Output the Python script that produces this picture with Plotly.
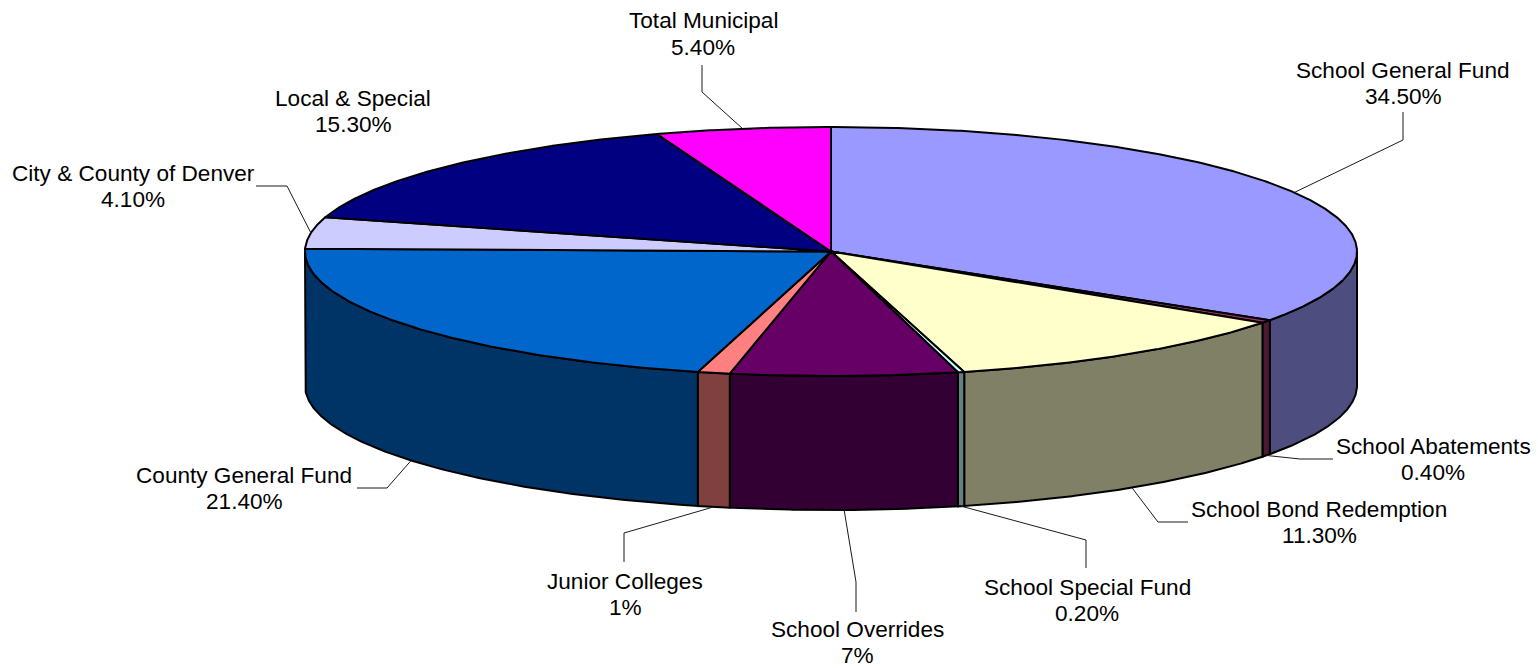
import numpy as np
import plotly.graph_objects as go

# ---- data ----
categories = ["School General Fund", "School Abatements", "School Bond Redemption",
              "School Special Fund", "School Overrides", "Junior Colleges",
              "County General Fund", "City & County of Denver", "Local & Special",
              "Total Municipal"]
values = [34.5, 0.4, 11.3, 0.2, 7, 1, 21.4, 4.1, 15.3, 5.4]
value_labels = ["34.50%", "0.40%", "11.30%", "0.20%", "7%", "1%",
                "21.40%", "4.10%", "15.30%", "5.40%"]

# ---- styles ----
top_colors = ["#9999FF", "#993366", "#FFFFCC", "#CCFFFF", "#660066",
              "#FF8080", "#0066CC", "#CCCCFF", "#000080", "#FF00FF"]
side_colors = ["#4D4D80", "#4D1A33", "#808066", "#668080", "#330033",
               "#804040", "#003366", "#666680", "#000040", "#800080"]

# ---- layout geometry (pixels of the 1538x668 canvas) ----
W, H = 1538, 668
CX, CY, RX, RY, DEPTH = 831, 251.5, 526, 124.5, 134
FONT = "Liberation Sans, Arial, sans-serif"
FONT_SIZE = 22.6
# label centre x, first-line y, second-line y
label_pos = [(1403, 70, 96), (1433, 446, 472), (1319, 509, 535), (1087, 587, 613),
             (857, 629, 655), (625, 581, 607), (244, 475, 501), (133, 173, 199),
             (353, 98, 124), (703, 20, 47)]
# leader: elbow and end point, None when the label has no leader
leader_pos = [((1403, 140), (1403, 112)), ((1300, 459), (1333, 459)),
              ((1158, 522), (1188, 522)), ((1086, 540), (1086, 568)),
              ((856, 582), (856, 612)), ((624, 533), (624, 562)),
              ((387, 488), (357, 488)), ((287, 186), (256, 186)),
              None, ((702, 92), (702, 65))]


def rim(deg):
    a = np.radians(deg)
    return CX + RX * np.sin(a), CY - RY * np.cos(a)


total = sum(values)
edges = np.concatenate([[0], np.cumsum(values)]) / total * 360

fig = go.Figure()
OUTLINE = dict(color="#000000", width=2)


def poly(xs, ys, fill, name):
    fig.add_trace(go.Scatter(x=xs, y=ys, mode="lines", fill="toself", fillcolor=fill,
                             line=OUTLINE, name=name, hoverinfo="name", showlegend=False))


# visible outer walls: the front half of the pie (90..270 degrees)
for i, cat in enumerate(categories):
    a0, a1 = max(edges[i], 90), min(edges[i + 1], 270)
    if a1 <= a0:
        continue
    t = np.linspace(a0, a1, max(2, int((a1 - a0) * 3) + 2))
    x, y = rim(t)
    xs = np.concatenate([x, x[::-1], x[:1]])
    ys = np.concatenate([y, y[::-1] + DEPTH, y[:1]])
    poly(xs, ys, side_colors[i], cat)

# top faces
for i, cat in enumerate(categories):
    t = np.linspace(edges[i], edges[i + 1], max(2, int((edges[i + 1] - edges[i]) * 3) + 2))
    x, y = rim(t)
    poly(np.concatenate([[CX], x, [CX]]), np.concatenate([[CY], y, [CY]]), top_colors[i], cat)

# leaders and labels
annotations = []
for i, cat in enumerate(categories):
    mid = (edges[i] + edges[i + 1]) / 2
    ax, ay = rim(mid)
    if 90 < mid < 270:
        ay += DEPTH
    if leader_pos[i] is not None:
        (ex, ey), (fx, fy) = leader_pos[i]
        fig.add_trace(go.Scatter(x=[ax, ex, fx], y=[ay, ey, fy], mode="lines",
                                 line=dict(color="#1a1a1a", width=1),
                                 hoverinfo="skip", showlegend=False))
    lx, y1, y2 = label_pos[i]
    for text, yy in ((cat, y1), (value_labels[i], y2)):
        annotations.append(dict(x=lx, y=yy, text=text, showarrow=False, xanchor="center",
                                yanchor="middle", font=dict(family=FONT, size=FONT_SIZE, color="#000000")))

fig.update_layout(
    width=W, height=H, margin=dict(l=0, r=0, t=0, b=0),
    paper_bgcolor="#FFFFFF", plot_bgcolor="#FFFFFF", showlegend=False,
    xaxis=dict(range=[0, W], visible=False, fixedrange=True),
    yaxis=dict(range=[H, 0], visible=False, fixedrange=True),
    annotations=annotations,
)
fig.write_html("out.html", config={"displayModeBar": False},
               post_script="document.body.style.margin='0';document.body.style.overflow='hidden';")
